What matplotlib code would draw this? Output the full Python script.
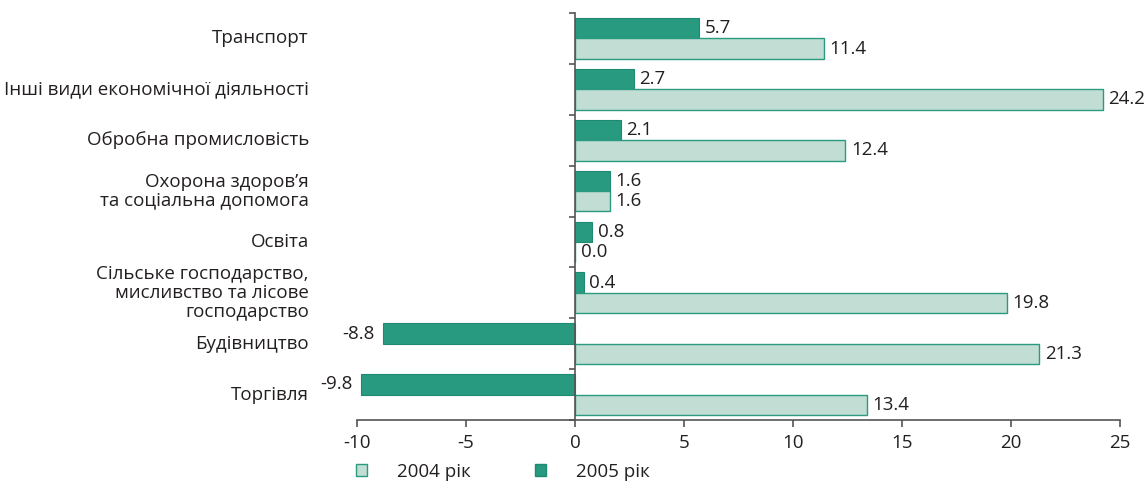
import numpy as np
import matplotlib.pyplot as plt
from matplotlib.patches import Patch

plt.rcParams['font.family'] = ['Open Sans', 'DejaVu Sans']

categories = [
    'Транспорт',
    'Інші види економічної діяльності',
    'Обробна промисловість',
    'Охорона здоров\u2019я\nта соціальна допомога',
    'Освіта',
    'Сільське господарство,\nмисливство та лісове\nгосподарство',
    'Будівництво',
    'Торгівля',
]
values_2005 = [5.7, 2.7, 2.1, 1.6, 0.8, 0.4, -8.8, -9.8]
values_2004 = [11.4, 24.2, 12.4, 1.6, 0.0, 19.8, 21.3, 13.4]
x_ticks = [-10, -5, 0, 5, 10, 15, 20, 25]

dark = '#279a7f'
light = '#c1ddd4'
text_col = '#231f20'
axis_col = '#555555'
fs = 13.5

fig = plt.figure(figsize=(11.44, 4.84), dpi=100)
ax = fig.add_axes([357 / 1144, 1 - 420 / 484, 763 / 1144, 407 / 484])

y = np.arange(len(categories))
h = 0.4
ax.barh(y - 0.2, values_2005, height=h, color=dark, edgecolor='#1f8a70', linewidth=0.8)
ax.barh(y + 0.2, values_2004, height=h, color=light, edgecolor='#2a9a80', linewidth=1.0)

# value labels
for yi, v in zip(y - 0.2, values_2005):
    ax.annotate(f'{v:.1f}', (v, yi), xytext=(4 if v >= 0 else -6, 0), textcoords='offset points',
                ha='left' if v >= 0 else 'right', va='center', fontsize=fs, color=text_col)
for yi, v in zip(y + 0.2, values_2004):
    ax.annotate(f'{v:.1f}', (v, yi), xytext=(4, 0), textcoords='offset points',
                ha='left', va='center', fontsize=fs, color=text_col)

# category labels
for yi, name in zip(y, categories):
    ax.text(-0.063, yi, name, transform=ax.get_yaxis_transform(), ha='right', va='center',
            fontsize=fs, color=text_col, linespacing=1.05)

ax.set_xlim(-10, 25)
ax.set_ylim(len(categories) - 0.5, -0.5)
ax.set_xticks(x_ticks)
ax.set_xticklabels([str(t) for t in x_ticks], fontsize=fs, color=text_col)
ax.set_yticks(np.arange(len(categories) + 1) - 0.5)
ax.set_yticklabels([])

ax.spines['top'].set_visible(False)
ax.spines['right'].set_visible(False)
ax.spines['left'].set_position(('data', 0))
for s in ['left', 'bottom']:
    ax.spines[s].set_color(axis_col)
    ax.spines[s].set_linewidth(1.2)
ax.tick_params(axis='x', direction='out', length=5, width=1.2, color=axis_col, pad=5)
ax.tick_params(axis='y', direction='out', length=4, width=1.2, color=axis_col)

handles = [Patch(facecolor=light, edgecolor='#2a9a80', label='2004 рік'),
           Patch(facecolor=dark, edgecolor='#1f8a70', label='2005 рік')]
fig.legend(handles=handles, loc='center left', bbox_to_anchor=(356 / 1144, 1 - 472 / 484), ncol=2,
           frameon=False, handlelength=0.6, handleheight=0.6, handletextpad=1.6,
           columnspacing=3.4, borderpad=0, borderaxespad=0, fontsize=fs, labelcolor=text_col)

fig.savefig('out.png', dpi=100)
